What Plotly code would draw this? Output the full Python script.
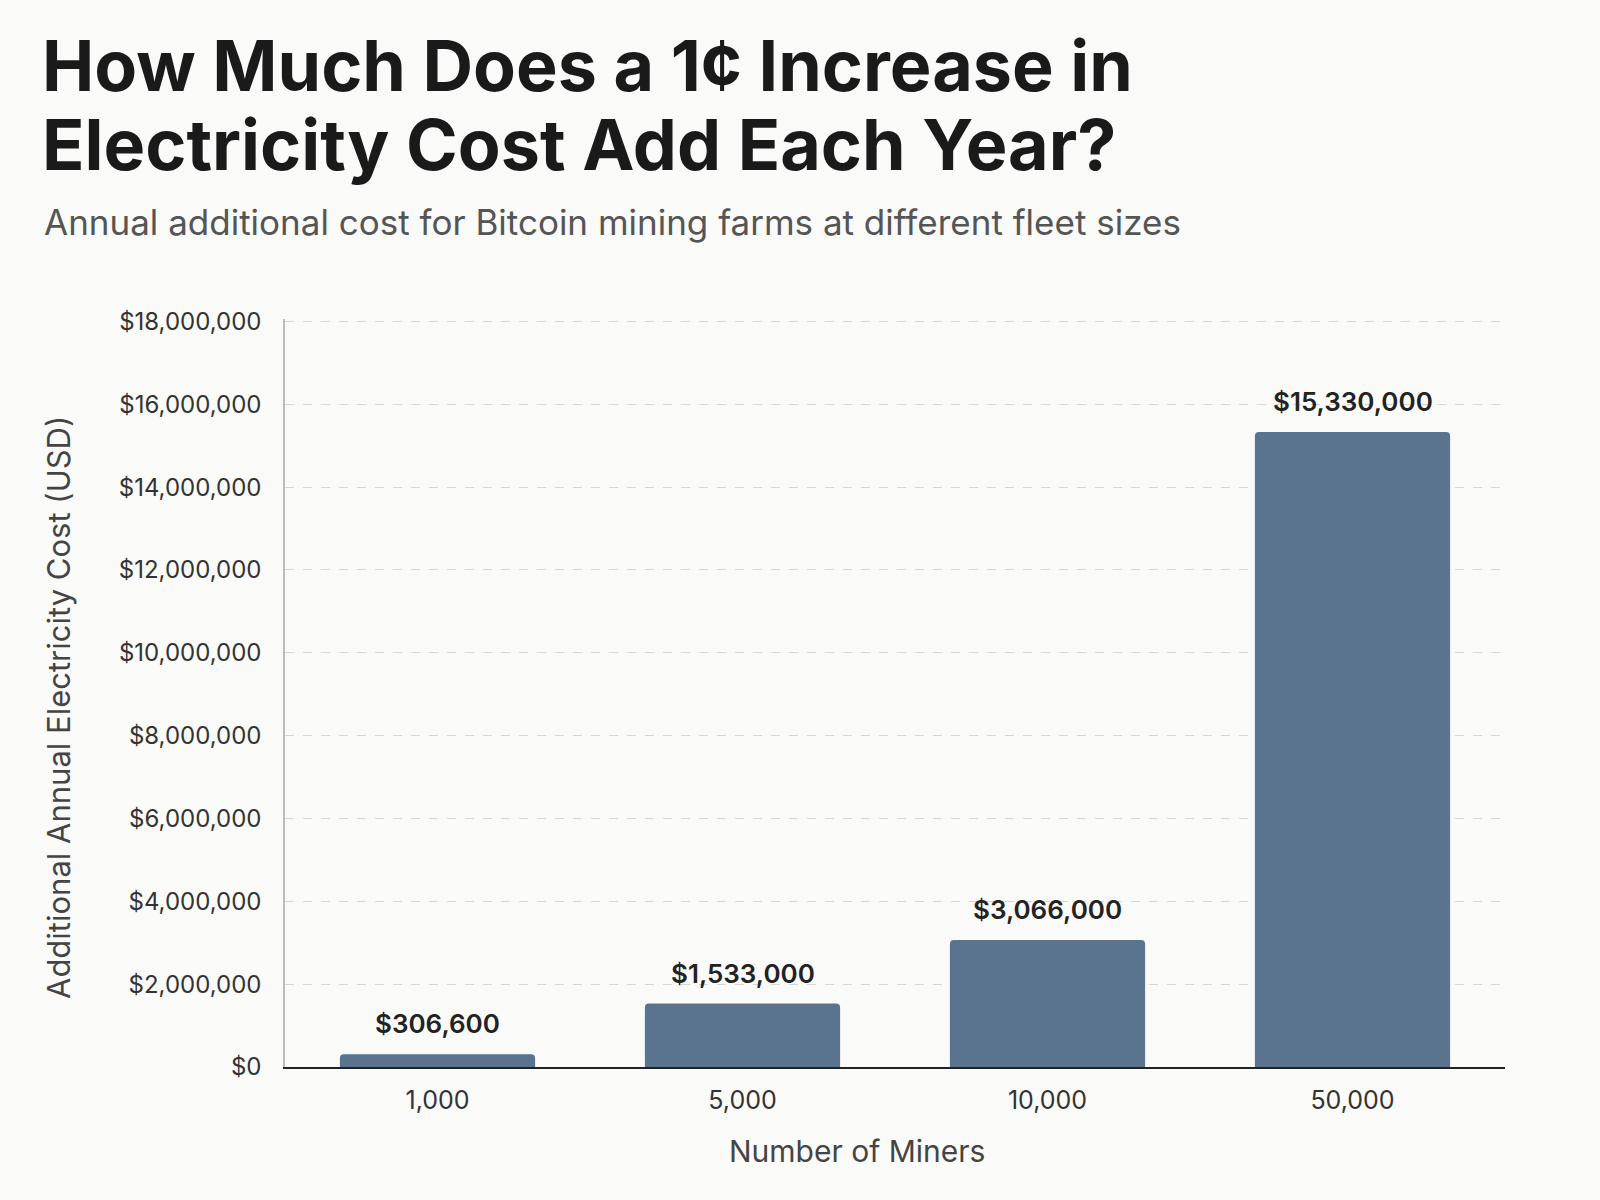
import plotly.graph_objects as go

categories = ["1,000", "5,000", "10,000", "50,000"]
values = [306600, 1533000, 3066000, 15330000]
value_labels = ["$306,600", "$1,533,000", "$3,066,000", "$15,330,000"]
y_ticks = [0, 2000000, 4000000, 6000000, 8000000, 10000000, 12000000, 14000000, 16000000, 18000000]
y_tick_labels = ["$0", "$2,000,000", "$4,000,000", "$6,000,000", "$8,000,000", "$10,000,000",
                 "$12,000,000", "$14,000,000", "$16,000,000", "$18,000,000"]

title_lines = ["How Much Does a 1¢ Increase in", "Electricity Cost Add Each Year?"]
subtitle_text = "Annual additional cost for Bitcoin mining farms at different fleet sizes"
x_title = "Number of Miners"
y_title = "Additional Annual Electricity Cost (USD)"

W, H = 1600, 1200
L, R, T, B = 285, 95, 319, 133
pw, ph = W - L - R, H - T - B

def px_x(x):
    return (x - L) / pw

def px_y(y):
    return (H - B - y) / ph

FONT = "Inter"
BG = "#fafaf9"

fig = go.Figure()
fig.add_trace(go.Bar(
    x=categories, y=values,
    marker=dict(color="#5a7490", cornerradius=4, line=dict(width=0)),
    hoverinfo="skip",
))

annotations = []
for c, v, t in zip(categories, values, value_labels):
    annotations.append(dict(
        x=c, y=v, xref="x", yref="y", text=t, showarrow=False,
        yanchor="bottom", yshift=13,
        font=dict(family=FONT, size=26, color="#222222", weight=600),
    ))

for i, line in enumerate(title_lines):
    annotations.append(dict(
        x=px_x(40), y=px_y(21 + i * 79), xref="paper", yref="paper", xanchor="left", yanchor="top",
        text=line, showarrow=False, align="left",
        font=dict(family=FONT, size=70, color="#1a1a1a", weight=700),
    ))
annotations.append(dict(
    x=px_x(42), y=px_y(222), xref="paper", yref="paper", xanchor="left", yanchor="middle",
    text=subtitle_text, showarrow=False,
    font=dict(family=FONT, size=35, color="#555555"),
))
annotations.append(dict(
    x=px_x(58), y=px_y(708), xref="paper", yref="paper", xanchor="center", yanchor="middle",
    text=y_title, showarrow=False, textangle=-90,
    font=dict(family=FONT, size=31, color="#444444"),
))
annotations.append(dict(
    x=px_x(857), y=px_y(1151), xref="paper", yref="paper", xanchor="center", yanchor="middle",
    text=x_title, showarrow=False,
    font=dict(family=FONT, size=30, color="#444444"),
))

fig.update_layout(
    width=W, height=H,
    margin=dict(l=L, r=R, t=T, b=B),
    paper_bgcolor=BG, plot_bgcolor=BG,
    showlegend=False,
    bargap=0.36,
    annotations=annotations,
    xaxis=dict(
        showline=True, linecolor="#222222", linewidth=2,
        showgrid=False, ticks="", ticklabelstandoff=10,
        tickfont=dict(family=FONT, size=25, color="#333333"),
    ),
    yaxis=dict(
        range=[0, 18060000], tickvals=y_ticks, ticktext=y_tick_labels,
        showline=True, linecolor="#bbbbbb", linewidth=1.5,
        showgrid=True, gridcolor="#d6d6d6", griddash="dash", gridwidth=1,
        zeroline=False, ticks="", ticklabelstandoff=17,
        tickfont=dict(family=FONT, size=24, color="#333333"),
    ),
)

fig.write_html("out.html", config={"displayModeBar": False},
               post_script="document.body.style.margin='0';")
